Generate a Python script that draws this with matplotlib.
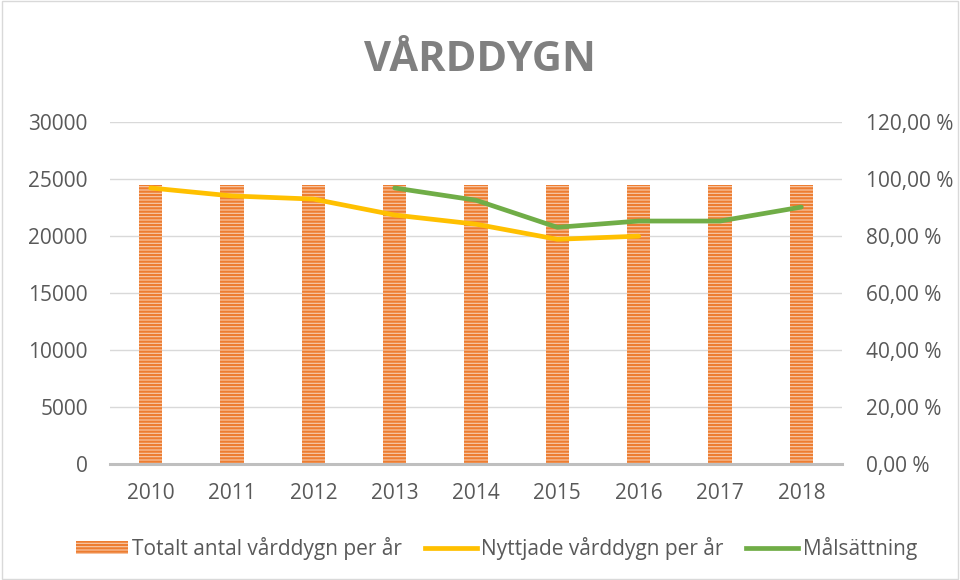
import matplotlib
matplotlib.use("Agg")
import matplotlib.pyplot as plt
from matplotlib.patches import Patch
from matplotlib.lines import Line2D
from matplotlib.ticker import FuncFormatter

plt.rcParams['font.family'] = ['Open Sans', 'DejaVu Sans']
plt.rcParams['hatch.linewidth'] = 1.6

years = ['2010', '2011', '2012', '2013', '2014', '2015', '2016', '2017', '2018']
totalt = [24460, 24460, 24460, 24460, 24460, 24460, 24460, 24460, 24460]
nyttjade = [96.8, 94.0, 92.9, 87.3, 84.1, 78.8, 79.9, None, None]
malsattning = [None, None, None, 96.8, 92.5, 83.0, 85.2, 85.2, 90.1]

fig = plt.figure(figsize=(9.6, 5.8), dpi=100)
ax = fig.add_axes([0.1146, 0.2, 0.7625, 0.59])
ax2 = ax.twinx()

x = list(range(len(years)))
ax.bar(x, totalt, width=0.29, facecolor='#F8CBAD', edgecolor='#ED7D31',
       linewidth=0, hatch='-----', zorder=2)

ny_x = [i for i, v in enumerate(nyttjade) if v is not None]
ny_y = [v for v in nyttjade if v is not None]
ma_x = [i for i, v in enumerate(malsattning) if v is not None]
ma_y = [v for v in malsattning if v is not None]
ax2.plot(ny_x, ny_y, color='#FFC000', lw=3.4, solid_capstyle='round', zorder=3)
ax2.plot(ma_x, ma_y, color='#70AD47', lw=3.4, solid_capstyle='round', zorder=3)

ax.set_xlim(-0.5, 8.5)
ax.set_ylim(0, 30000)
ax2.set_ylim(0, 120)
ax.set_yticks(range(0, 30001, 5000))
ax2.set_yticks(range(0, 121, 20))
ax2.yaxis.set_major_formatter(FuncFormatter(lambda v, p: f"{v:.2f}".replace('.', ',') + " %"))
ax.set_xticks(x)
ax.set_xticklabels(years)

ax.grid(axis='y', color='#D9D9D9', lw=1, zorder=0)
ax.set_axisbelow(True)
for a in (ax, ax2):
    for s in ('top', 'left', 'right', 'bottom'):
        a.spines[s].set_visible(False)
    a.tick_params(length=0, labelsize=15, labelcolor='#595959')
ax.spines['bottom'].set_visible(True)
ax.spines['bottom'].set_color('#BFBFBF')
ax.spines['bottom'].set_linewidth(2.2)
ax.tick_params(axis='y', pad=16)
ax.tick_params(axis='x', pad=14)
ax2.tick_params(axis='y', pad=17)

fig.text(0.5, 0.895, 'VÅRDDYGN', ha='center', va='center', fontsize=30,
         fontweight='bold', color='#808080')

handles = [
    Patch(facecolor='#F8CBAD', edgecolor='#ED7D31', linewidth=0, hatch='-----',
          label='Totalt antal vårddygn per år'),
    Line2D([0], [0], color='#FFC000', lw=3.4, label='Nyttjade vårddygn per år'),
    Line2D([0], [0], color='#70AD47', lw=3.4, label='Målsättning'),
]
fig.legend(handles=handles, loc='center', bbox_to_anchor=(0.517, 0.055), ncol=3,
           frameon=False, fontsize=15, labelcolor='#595959', handlelength=2.5,
           handleheight=0.6, handletextpad=0.2, columnspacing=1.1)

fig.add_artist(plt.Rectangle((0.002, 0.002), 0.996, 0.996, transform=fig.transFigure,
                             fill=False, edgecolor='#D9D9D9', lw=1))

fig.savefig('out.png', dpi=100, facecolor='white')
